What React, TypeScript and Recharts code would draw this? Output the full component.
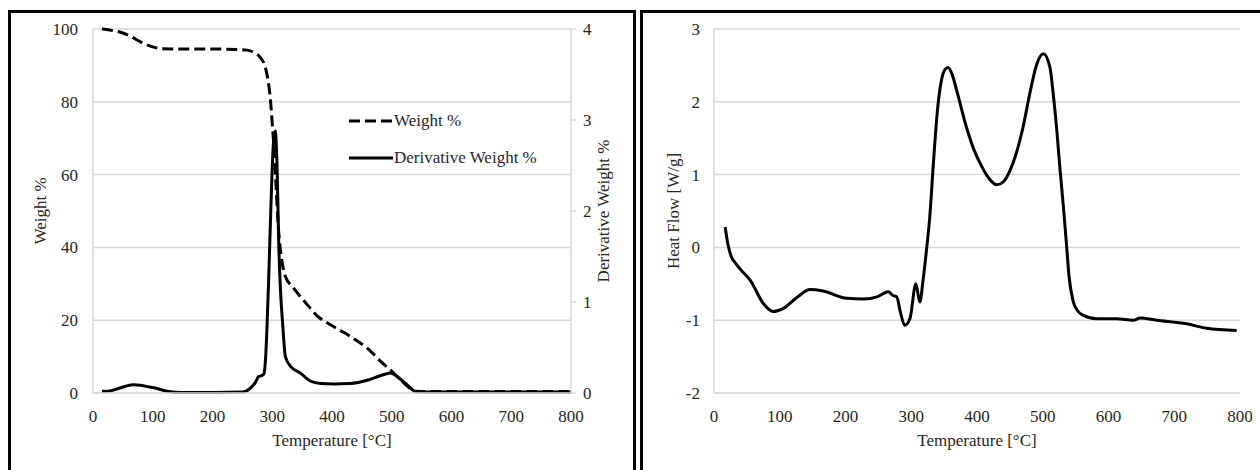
import { LineChart, Line, XAxis, YAxis, CartesianGrid, Legend } from "recharts";

// TGA: weight % (left axis)
const weightTemp = [15, 28, 50, 65, 80, 100, 115, 150, 200, 240, 258, 269, 280, 286, 292, 297, 300, 303, 306, 310, 316, 322, 335, 347, 360, 375, 390, 403, 420, 431, 445, 459, 470, 482, 498, 515, 532, 540, 560, 600, 700, 800];
const weightVal = [100, 99.7, 98.9, 97.8, 96.4, 95.1, 94.6, 94.5, 94.5, 94.4, 94.2, 93.6, 92.2, 90.6, 86.8, 80.5, 74, 67, 58, 46, 36.5, 32, 29, 26.5, 24, 21.2, 19.5, 18.2, 16.6, 15.5, 14, 12.3, 10.6, 8.6, 6.3, 3.6, 1.1, 0.5, 0.4, 0.4, 0.4, 0.4];

// DTG: derivative weight % (right axis)
const derivTemp = [15, 25, 45, 67, 80, 95, 107, 124, 150, 200, 250, 263, 272, 277, 282, 286, 289, 291, 294, 298, 302, 305, 308, 311, 314, 317, 322, 331, 347, 364, 381, 403, 431, 459, 481, 498, 509, 526, 540, 560, 600, 700, 800];
const derivVal = [0.02, 0.02, 0.055, 0.09, 0.085, 0.065, 0.05, 0.02, 0.005, 0.005, 0.01, 0.05, 0.12, 0.18, 0.19, 0.21, 0.4, 0.69, 1.25, 2.1, 2.75, 2.88, 2.5, 1.61, 1.1, 0.8, 0.4, 0.29, 0.22, 0.13, 0.105, 0.1, 0.105, 0.14, 0.19, 0.22, 0.18, 0.09, 0.015, 0.01, 0.01, 0.01, 0.01];

// DSC: heat flow
const heatTemp = [17, 21, 26, 33, 40, 55, 75, 90, 105, 127, 146, 166, 202, 228, 248, 265, 272, 278, 283, 290, 298, 307, 313, 318, 323, 328, 334, 340, 346, 352, 356, 362, 369, 384, 395, 405, 418, 430, 440, 450, 460, 470, 480, 491, 501, 511, 516, 521, 526, 531, 536, 540, 546, 553, 561, 582, 612, 638, 648, 673, 719, 749, 795];
const heatVal = [0.28, 0.05, -0.12, -0.22, -0.3, -0.45, -0.77, -0.88, -0.84, -0.68, -0.58, -0.6, -0.7, -0.71, -0.68, -0.61, -0.66, -0.68, -0.87, -1.07, -0.98, -0.5, -0.75, -0.45, -0.05, 0.4, 1.2, 1.9, 2.3, 2.45, 2.47, 2.38, 2.16, 1.65, 1.35, 1.15, 0.95, 0.86, 0.9, 1.05, 1.3, 1.65, 2.1, 2.52, 2.66, 2.47, 2.1, 1.65, 1.1, 0.6, 0.05, -0.4, -0.73, -0.87, -0.93, -0.98, -0.98, -1.0, -0.97, -1.0, -1.05, -1.11, -1.14];

const tempTicks = [0, 100, 200, 300, 400, 500, 600, 700, 800];
const weightTicks = [0, 20, 40, 60, 80, 100];
const derivTicks = [0, 1, 2, 3, 4];
const heatTicks = [-2, -1, 0, 1, 2, 3];

const toPoints = (ts: number[], vs: number[]) => ts.map((t, i) => ({ t, v: vs[i] }));
const weightData = toPoints(weightTemp, weightVal);
const derivData = toPoints(derivTemp, derivVal);
const heatData = toPoints(heatTemp, heatVal);

const FONT = "'Liberation Serif', 'Times New Roman', serif";
const GRID = "#d9d9d9";
const TEXT = "#262626";
const FS = 17;
const tick = { fill: TEXT, fontSize: FS, fontFamily: FONT };
const title = { fill: TEXT, fontSize: FS, fontFamily: FONT };

function TgaLegend() {
  const row = (dash: string | undefined, label: string) => (
    <div style={{ display: "flex", alignItems: "center", height: 20, marginBottom: 17 }}>
      <svg width={45} height={10} style={{ display: "block" }}>
        <line x1={0} y1={5} x2={44} y2={5} stroke="#000" strokeWidth={3} strokeDasharray={dash} />
      </svg>
      <span style={{ fontFamily: FONT, fontSize: FS, color: TEXT, whiteSpace: "nowrap" }}>{label}</span>
    </div>
  );
  return (
    <div>
      {row("11 5", "Weight %")}
      {row(undefined, "Derivative Weight %")}
    </div>
  );
}

export default function App() {
  return (
    <div style={{ position: "absolute", left: 0, top: 0, width: 1260, height: 470, overflow: "hidden", background: "#fff" }}>
      {/* panel frames */}
      <div style={{ position: "absolute", left: 8, top: 10, width: 628, height: 480, border: "3px solid #000", boxSizing: "border-box" }} />
      <div style={{ position: "absolute", left: 640, top: 10, width: 640, height: 480, border: "3px solid #000", boxSizing: "border-box" }} />

      {/* TGA / DTG */}
      <div style={{ position: "absolute", left: 0, top: 0 }}>
        <LineChart width={634} height={470} margin={{ top: 29, right: 23, bottom: 47, left: 10 }}>
          <CartesianGrid yAxisId="w" vertical={false} stroke={GRID} strokeWidth={1.5} />
          <XAxis
            dataKey="t"
            type="number"
            domain={[0, 800]}
            ticks={tempTicks}
            allowDuplicatedCategory={false}
            tick={tick}
            tickLine={false}
            tickSize={0}
            tickMargin={17}
            axisLine={{ stroke: GRID, strokeWidth: 1.5 }}
            height={30}
            label={{ value: "Temperature [°C]", position: "bottom", offset: 11, style: title }}
          />
          <YAxis
            yAxisId="w"
            domain={[0, 100]}
            ticks={weightTicks}
            tick={tick}
            tickLine={false}
            tickSize={0}
            tickMargin={15}
            axisLine={{ stroke: GRID, strokeWidth: 1.5 }}
            width={83}
            label={{ value: "Weight %", angle: -90, position: "insideLeft", offset: 30, style: { ...title, textAnchor: "middle" } }}
          />
          <YAxis
            yAxisId="d"
            orientation="right"
            domain={[0, 4]}
            ticks={derivTicks}
            tick={{ ...tick, textAnchor: "start" }}
            tickLine={{ stroke: GRID, strokeWidth: 1.5 }}
            tickSize={5}
            tickMargin={7}
            axisLine={{ stroke: GRID, strokeWidth: 1.5 }}
            width={40}
            label={{ value: "Derivative Weight %", angle: -90, position: "insideRight", offset: 8, style: { ...title, textAnchor: "middle" } }}
          />
          <Legend
            layout="vertical"
            align="center"
            verticalAlign="middle"
            wrapperStyle={{ left: 349, top: 111, width: "auto" }}
            content={() => <TgaLegend />}
          />
          <Line
            yAxisId="w"
            data={weightData}
            dataKey="v"
            name="Weight %"
            type="monotone"
            stroke="#000"
            strokeWidth={3}
            strokeDasharray="11 5"
            dot={false}
            isAnimationActive={false}
          />
          <Line
            yAxisId="d"
            data={derivData}
            dataKey="v"
            name="Derivative Weight %"
            type="monotone"
            stroke="#000"
            strokeWidth={3}
            dot={false}
            isAnimationActive={false}
          />
        </LineChart>
      </div>

      {/* DSC */}
      <div style={{ position: "absolute", left: 630, top: 0 }}>
        <LineChart width={630} height={470} margin={{ top: 29, right: 20, bottom: 47, left: 10 }}>
          <CartesianGrid vertical={false} stroke={GRID} strokeWidth={1.5} />
          <XAxis
            dataKey="t"
            type="number"
            domain={[0, 800]}
            ticks={tempTicks}
            tick={tick}
            tickLine={false}
            tickSize={0}
            tickMargin={17}
            axisLine={{ stroke: GRID, strokeWidth: 1.5 }}
            height={30}
            label={{ value: "Temperature [°C]", position: "bottom", offset: 11, style: title }}
          />
          <YAxis
            domain={[-2, 3]}
            ticks={heatTicks}
            tick={tick}
            tickLine={false}
            tickSize={0}
            tickMargin={14}
            axisLine={{ stroke: GRID, strokeWidth: 1.5 }}
            width={74}
            label={{ value: "Heat Flow [W/g]", angle: -90, position: "insideLeft", offset: 33, style: { ...title, textAnchor: "middle" } }}
          />
          <Line
            data={heatData}
            dataKey="v"
            name="Heat Flow"
            type="monotone"
            stroke="#000"
            strokeWidth={3}
            dot={false}
            isAnimationActive={false}
          />
        </LineChart>
      </div>
    </div>
  );
}
